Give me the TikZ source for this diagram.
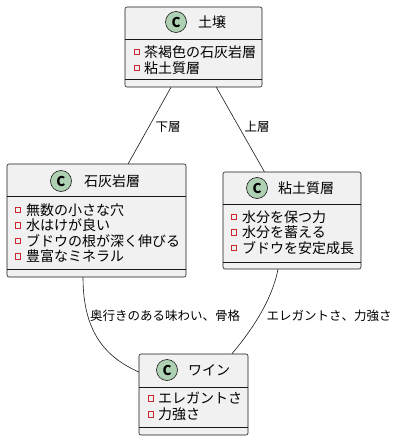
\documentclass[tikz,border=0pt]{standalone}
\usepackage{fontspec}
\setmainfont{Noto Sans CJK JP}
\usetikzlibrary{calc}
\definecolor{boxfill}{HTML}{F1F1F1}
\definecolor{boxline}{HTML}{181818}
\definecolor{iconfill}{HTML}{ADD1B2}
\definecolor{privred}{HTML}{C82930}
\tikzset{
  classbox/.style={draw=boxline, fill=boxfill, rounded corners=2pt, line width=0.6pt, inner sep=0pt},
  icon/.style={circle, draw=boxline, fill=iconfill, line width=0.6pt, minimum size=21pt, inner sep=0pt, font=\fontsize{13.5}{13.5}\selectfont\bfseries},
  title/.style={font=\fontsize{14}{14}\selectfont, inner sep=0pt},
  attr/.style={font=\fontsize{14}{14}\selectfont, inner sep=0pt, anchor=west},
  priv/.style={draw=privred, line width=0.6pt, minimum size=5.5pt, inner sep=0pt},
  conn/.style={draw=boxline, line width=0.6pt},
  elabel/.style={font=\fontsize{12.5}{13}\selectfont, inner sep=0pt},
}
\begin{document}
\begin{tikzpicture}[x=1pt,y=-1pt]
\useasboundingbox (0,0) rectangle (401,441);
% boxes
\node[classbox, minimum width=137pt, minimum height=80pt] (soil) at (193.5,47) {};
\node[classbox, minimum width=179pt, minimum height=113pt] (lime) at (96.5,220.5) {};
\node[classbox, minimum width=138pt, minimum height=97pt] (clay) at (292,220.5) {};
\node[classbox, minimum width=109pt, minimum height=81pt] (wine) at (193.5,394.5) {};
% dividers
\draw[conn] (125,39) -- (262,39);
\draw[conn] (125,79) -- (262,79);
\draw[conn] (7,196) -- (186,196);
\draw[conn] (7,269) -- (186,269);
\draw[conn] (223,204) -- (361,204);
\draw[conn] (223,262) -- (361,262);
\draw[conn] (139,387) -- (248,387);
\draw[conn] (139,427) -- (248,427);
% headers
\node[icon] (soilicon) at (176,22) {C};
\node[title] (soiltitle) at (212,22) {土壌};
\node[icon] (limeicon) at (61,181) {C};
\node[title] (limetitle) at (112,181) {石灰岩層};
\node[icon] (clayicon) at (257,188) {C};
\node[title] (claytitle) at (306,188) {粘土質層};
\node[icon] (wineicon) at (167,370) {C};
\node[title] (winetitle) at (209,370) {ワイン};
% attributes soil
\node[priv] (s1) at (137,52) {};
\node[attr] (s1t) at (144,52) {茶褐色の石灰岩層};
\node[priv] (s2) at (137,68) {};
\node[attr] (s2t) at (144,68) {粘土質層};
% attributes lime
\node[priv] (l1) at (18,210) {};
\node[attr] (l1t) at (26,210) {無数の小さな穴};
\node[priv] (l2) at (18,225.5) {};
\node[attr] (l2t) at (26,225.5) {水はけが良い};
\node[priv] (l3) at (18,241) {};
\node[attr] (l3t) at (26,241) {ブドウの根が深く伸びる};
\node[priv] (l4) at (18,256.5) {};
\node[attr] (l4t) at (26,256.5) {豊富なミネラル};
% attributes clay
\node[priv] (c1) at (234,217) {};
\node[attr] (c1t) at (242,217) {水分を保つ力};
\node[priv] (c2) at (234,232.5) {};
\node[attr] (c2t) at (242,232.5) {水分を蓄える};
\node[priv] (c3) at (234,248) {};
\node[attr] (c3t) at (242,248) {ブドウを安定成長};
% attributes wine
\node[priv] (w1) at (151,398.5) {};
\node[attr] (w1t) at (158,398.5) {エレガントさ};
\node[priv] (w2) at (151,414.5) {};
\node[attr] (w2t) at (158,414.5) {力強さ};
% connectors
\draw[conn] (soil) -- (lime);
\draw[conn] (soil) -- (clay);
\draw[conn] ($(lime.south)+(-13.5,0)$) .. controls (83,335) and (108,358) .. ($(wine.west)+(0,-22.5)$);
\draw[conn] ($(clay.south)+(-14,0)$) .. controls (272,300) and (252,330) .. ($(wine.north)+(38.5,0)$);
% edge labels
\node[elabel] (lbl1) at (168,127) {下層};
\node[elabel] (lbl2) at (257,127) {上層};
\node[elabel] (lbl3) at (165,316) {奥行きのある味わい、骨格};
\node[elabel] (lbl4) at (329,316) {エレガントさ、力強さ};
\end{tikzpicture}
\end{document}
